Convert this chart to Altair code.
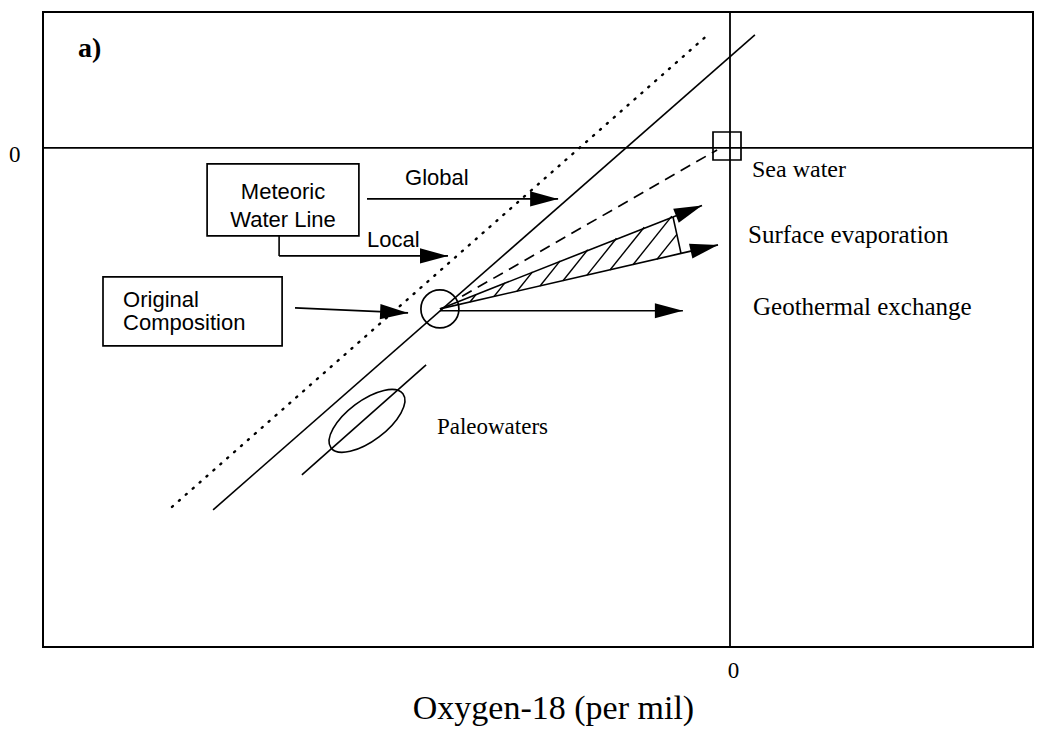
import altair as alt
import pandas as pd

# ---- axes (x: oxygen-18, y: deuterium, both per mil; only the zero is labelled)
X_DOMAIN = [-22.9, 10.1]
Y_DOMAIN = [-157.2, 42.8]
ZERO = [0]

# ---- straight segments (x, y) -> (x2, y2)
seg_name = ["local_mwl", "paleo_line", "global_arrow", "local_conn_v", "local_conn_h",
            "orig_arrow", "geothermal", "wedge_top", "wedge_end", "wedge_bottom",
            "evap_top", "evap_bottom"]
seg_x = [-17.23, -14.27, -12.10, -15.03, -15.03, -14.50, -9.67, -9.67, -1.90, -1.633, -1.90, -1.633]
seg_y = [-114.02, -102.99, -16.06, -27.72, -34.02, -50.39, -51.30, -50.71, -21.73, -33.23, -21.73, -33.23]
seg_x2 = [0.83, -10.13, -5.73, -15.03, -9.40, -10.73, -1.57, -1.90, -1.633, -9.67, -0.933, -0.40]
seg_y2 = [35.59, -68.35, -16.06, -34.02, -34.02, -51.97, -51.30, -21.73, -33.23, -50.71, -18.11, -30.55]

# hatching inside the evaporation wedge
hatch_x = [-8.667, -7.867, -7.100, -6.333, -5.567, -4.767, -4.000, -3.233, -2.433]
hatch_y = [-48.54, -46.80, -45.17, -43.50, -41.83, -40.09, -38.46, -36.79, -35.06]
hatch_x2 = [-8.467, -7.503, -6.583, -5.663, -4.743, -3.783, -2.860, -1.940, -1.770]
hatch_y2 = [-46.17, -42.52, -39.06, -35.59, -32.09, -28.47, -24.98, -21.51, -27.24]

# global meteoric water line (dotted) and sea-water mixing line (dashed)
dot_x, dot_y, dot_x2, dot_y2 = [-18.6], [-113.07], [-0.667], [36.22]
dash_x, dash_y, dash_x2, dash_y2 = [-8.93], [-46.74], [-0.43], [-0.63]

# arrow heads: tip position and direction (degrees, clockwise)
arrow_x = [-5.73, -9.40, -10.73, -1.57, -0.933, -0.40]
arrow_y = [-16.06, -34.02, -51.97, -51.30, -18.11, -30.55]
arrow_angle = [0, 0, 2.5, 0, 338.4, 347.1]

# original composition (circle), sea water (square), paleowaters (ellipse)
origin_x, origin_y = [-9.67], [-50.71]
sea_x, sea_y = [-0.10], [0.6]
paleo_x, paleo_y = [-12.1], [-85.98]

# label boxes
box_names = ["Meteoric Water Line", "Original Composition"]
box_x = [-17.43, -20.90]
box_x2 = [-12.37, -14.93]
box_y = [-5.04, -40.63]
box_y2 = [-27.72, -62.36]

# texts
sans_center_text = ["Meteoric", "Water Line"]
sans_center_x = [-14.9, -14.9]
sans_center_y = [-13.86, -22.68]

sans_left_text = ["Global", "Local", "Original", "Composition"]
sans_left_x = [-10.83, -12.10, -20.23, -20.23]
sans_left_y = [-9.45, -28.98, -47.87, -55.12]

serif_text = ["Sea water", "Surface evaporation", "Geothermal exchange", "Paleowaters"]
serif_x = [0.733, 0.60, 0.767, -9.77]
serif_y = [-6.93, -27.40, -50.08, -87.87]
serif_size = [24, 25, 25, 23]

panel_text = ["a)"]
panel_x = [-21.73]
panel_y = [31.3]

# ---------------------------------------------------------------------------
SERIF = "Liberation Serif"
SANS = "Liberation Sans"
ARROW_PATH = "M0,0 L-2,-0.54 L-2,0.54 Z"
ELLIPSE_PATH = ("M-1,0 C-1,-0.246 -0.552,-0.445 0,-0.445 C0.552,-0.445 1,-0.246 1,0 "
                "C1,0.246 0.552,0.445 0,0.445 C-0.552,0.445 -1,0.246 -1,0 Z")

xs = alt.Scale(domain=X_DOMAIN, nice=False, zero=False)
ys = alt.Scale(domain=Y_DOMAIN, nice=False, zero=False)

x_axis = alt.Axis(values=ZERO, grid=False, domain=False, ticks=False, tickSize=0,
                  labelFont=SERIF, labelFontSize=23, labelColor="black",
                  labelPadding=12, labelOffset=3,
                  title="Oxygen-18 (per mil)", titleFont=SERIF, titleFontSize=34,
                  titleFontWeight="normal", titleColor="black",
                  titleX=510, titleY=61, titleBaseline="middle", titleAlign="center")
y_axis = alt.Axis(values=ZERO, grid=False, domain=False, ticks=False, tickSize=0,
                  labelFont=SERIF, labelFontSize=23, labelColor="black",
                  labelPadding=23, labelOffset=7, title=None)


def X(f):
    return alt.X(f, type="quantitative", scale=xs, axis=x_axis)


def Y(f):
    return alt.Y(f, type="quantitative", scale=ys, axis=y_axis)


seg_df = pd.DataFrame({"name": seg_name, "x": seg_x, "y": seg_y, "x2": seg_x2, "y2": seg_y2})
hatch_df = pd.DataFrame({"x": hatch_x, "y": hatch_y, "x2": hatch_x2, "y2": hatch_y2})
dot_df = pd.DataFrame({"x": dot_x, "y": dot_y, "x2": dot_x2, "y2": dot_y2})
dash_df = pd.DataFrame({"x": dash_x, "y": dash_y, "x2": dash_x2, "y2": dash_y2})
arrow_df = pd.DataFrame({"x": arrow_x, "y": arrow_y, "ang": arrow_angle})
box_df = pd.DataFrame({"name": box_names, "x": box_x, "x2": box_x2, "y": box_y, "y2": box_y2})
zero_df = pd.DataFrame({"v": ZERO})

hline = alt.Chart(zero_df).mark_rule(color="black", strokeWidth=1.6).encode(y=Y("v"))
vline = alt.Chart(zero_df).mark_rule(color="black", strokeWidth=1.8).encode(x=X("v"))

solid = alt.Chart(seg_df).mark_rule(color="black", strokeWidth=1.6).encode(
    x=X("x"), y=Y("y"), x2="x2", y2="y2")
hatch = alt.Chart(hatch_df).mark_rule(color="black", strokeWidth=1.4).encode(
    x=X("x"), y=Y("y"), x2="x2", y2="y2")
dotted = alt.Chart(dot_df).mark_rule(color="black", strokeWidth=2.4, strokeDash=[1.2, 8.0],
                                     strokeCap="round").encode(
    x=X("x"), y=Y("y"), x2="x2", y2="y2")
dashed = alt.Chart(dash_df).mark_rule(color="black", strokeWidth=1.7, strokeDash=[11, 7]).encode(
    x=X("x"), y=Y("y"), x2="x2", y2="y2")

arrows = alt.Chart(arrow_df).mark_point(shape=ARROW_PATH, size=784, filled=True, color="black",
                                        opacity=1, strokeWidth=0).encode(
    x=X("x"), y=Y("y"), angle=alt.Angle("ang:Q", scale=None))

circle = alt.Chart(pd.DataFrame({"x": origin_x, "y": origin_y})).mark_point(
    shape="circle", size=1444, filled=False, color="black", opacity=1, strokeWidth=1.7).encode(
    x=X("x"), y=Y("y"))
square = alt.Chart(pd.DataFrame({"x": sea_x, "y": sea_y})).mark_point(
    shape="square", size=784, filled=False, color="black", opacity=1, strokeWidth=1.7).encode(
    x=X("x"), y=Y("y"))
ellipse = alt.Chart(pd.DataFrame({"x": paleo_x, "y": paleo_y})).mark_point(
    shape=ELLIPSE_PATH, size=8100, angle=323, filled=False, color="black", opacity=1,
    strokeWidth=1.6).encode(x=X("x"), y=Y("y"))

boxes = alt.Chart(box_df).mark_rect(fill="white", stroke="black", strokeWidth=1.7).encode(
    x=X("x"), x2="x2", y=Y("y"), y2="y2")

t_center = alt.Chart(pd.DataFrame({"t": sans_center_text, "x": sans_center_x, "y": sans_center_y})).mark_text(
    align="center", baseline="middle", font=SANS, fontSize=22, color="black").encode(
    x=X("x"), y=Y("y"), text="t:N")
t_left = alt.Chart(pd.DataFrame({"t": sans_left_text, "x": sans_left_x, "y": sans_left_y})).mark_text(
    align="left", baseline="middle", font=SANS, fontSize=22, color="black").encode(
    x=X("x"), y=Y("y"), text="t:N")
t_serif = alt.Chart(pd.DataFrame({"t": serif_text, "x": serif_x, "y": serif_y, "fs": serif_size})).mark_text(
    align="left", baseline="middle", font=SERIF, color="black").encode(
    x=X("x"), y=Y("y"), text="t:N", size=alt.Size("fs:Q", scale=None))
t_panel = alt.Chart(pd.DataFrame({"t": panel_text, "x": panel_x, "y": panel_y})).mark_text(
    align="left", baseline="middle", font=SERIF, fontSize=28, fontWeight="bold", color="black").encode(
    x=X("x"), y=Y("y"), text="t:N")

chart = alt.layer(
    hline, vline, solid, hatch, dotted, dashed, boxes, circle, square, ellipse, arrows,
    t_center, t_left, t_serif, t_panel
).properties(
    width=990, height=635,
    autosize=alt.AutoSizeParams(type="none"),
    padding={"left": 35, "top": 4, "right": 16, "bottom": 86},
    background="white",
).configure_view(stroke="black", strokeWidth=2)

chart.save("out.html", embed_options={"renderer": "svg", "actions": False})
